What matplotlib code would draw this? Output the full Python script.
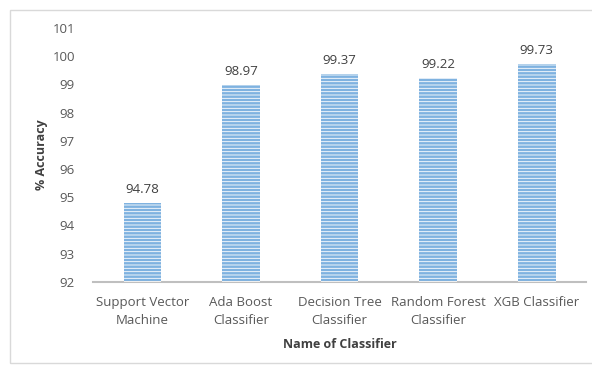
import numpy as np
import matplotlib.pyplot as plt
from matplotlib.patches import Rectangle

# Data
classifiers = ['Support Vector\nMachine', 'Ada Boost\nClassifier', 'Decision Tree\nClassifier',
               'Random Forest\nClassifier', 'XGB Classifier']
accuracy = [94.78, 98.97, 99.37, 99.22, 99.73]

plt.rcParams['font.family'] = ['Open Sans', 'DejaVu Sans']
plt.rcParams['hatch.linewidth'] = 0.6

fig = plt.figure(figsize=(5.92, 3.67), dpi=100)
ax = fig.add_axes([0.157, 0.232, 0.833, 0.692])

# light frame around the chart
fig.patches.append(Rectangle((0.017, 0.012), 0.985, 0.962, transform=fig.transFigure,
                             fill=False, edgecolor='#d9d9d9', linewidth=1))

x = np.arange(len(classifiers))
ax.bar(x, np.array(accuracy) - 92, bottom=92, width=0.38, color='#7fb2e0', linewidth=0, zorder=2)
ax.bar(x, np.array(accuracy) - 92, bottom=92, width=0.38, fill=False, edgecolor='white',
       hatch='-----', linewidth=0, zorder=3)

for xi, v in zip(x, accuracy):
    ax.text(xi, v + 0.25, f'{v:.2f}', ha='center', va='bottom', fontsize=9.5, color='#404040')

ax.set_ylim(92, 101)
ax.set_xlim(-0.5, 4.5)
ax.set_yticks(range(92, 102))
ax.set_xticks(x)
ax.set_xticklabels(classifiers, fontsize=9.5, color='#595959', linespacing=1.5)
ax.tick_params(axis='y', labelsize=9.5, labelcolor='#595959', length=0, pad=13)
ax.tick_params(axis='x', length=0, pad=10)

for s in ['top', 'right', 'left']:
    ax.spines[s].set_visible(False)
ax.spines['bottom'].set_color('#bfbfbf')
ax.spines['bottom'].set_linewidth(1.5)

ax.set_ylabel('% Accuracy', fontsize=9, fontweight='bold', color='#404040', labelpad=3)
ax.set_xlabel('Name of Classifier', fontsize=9, fontweight='bold', color='#404040', labelpad=8)

fig.savefig('out.png', dpi=100)
